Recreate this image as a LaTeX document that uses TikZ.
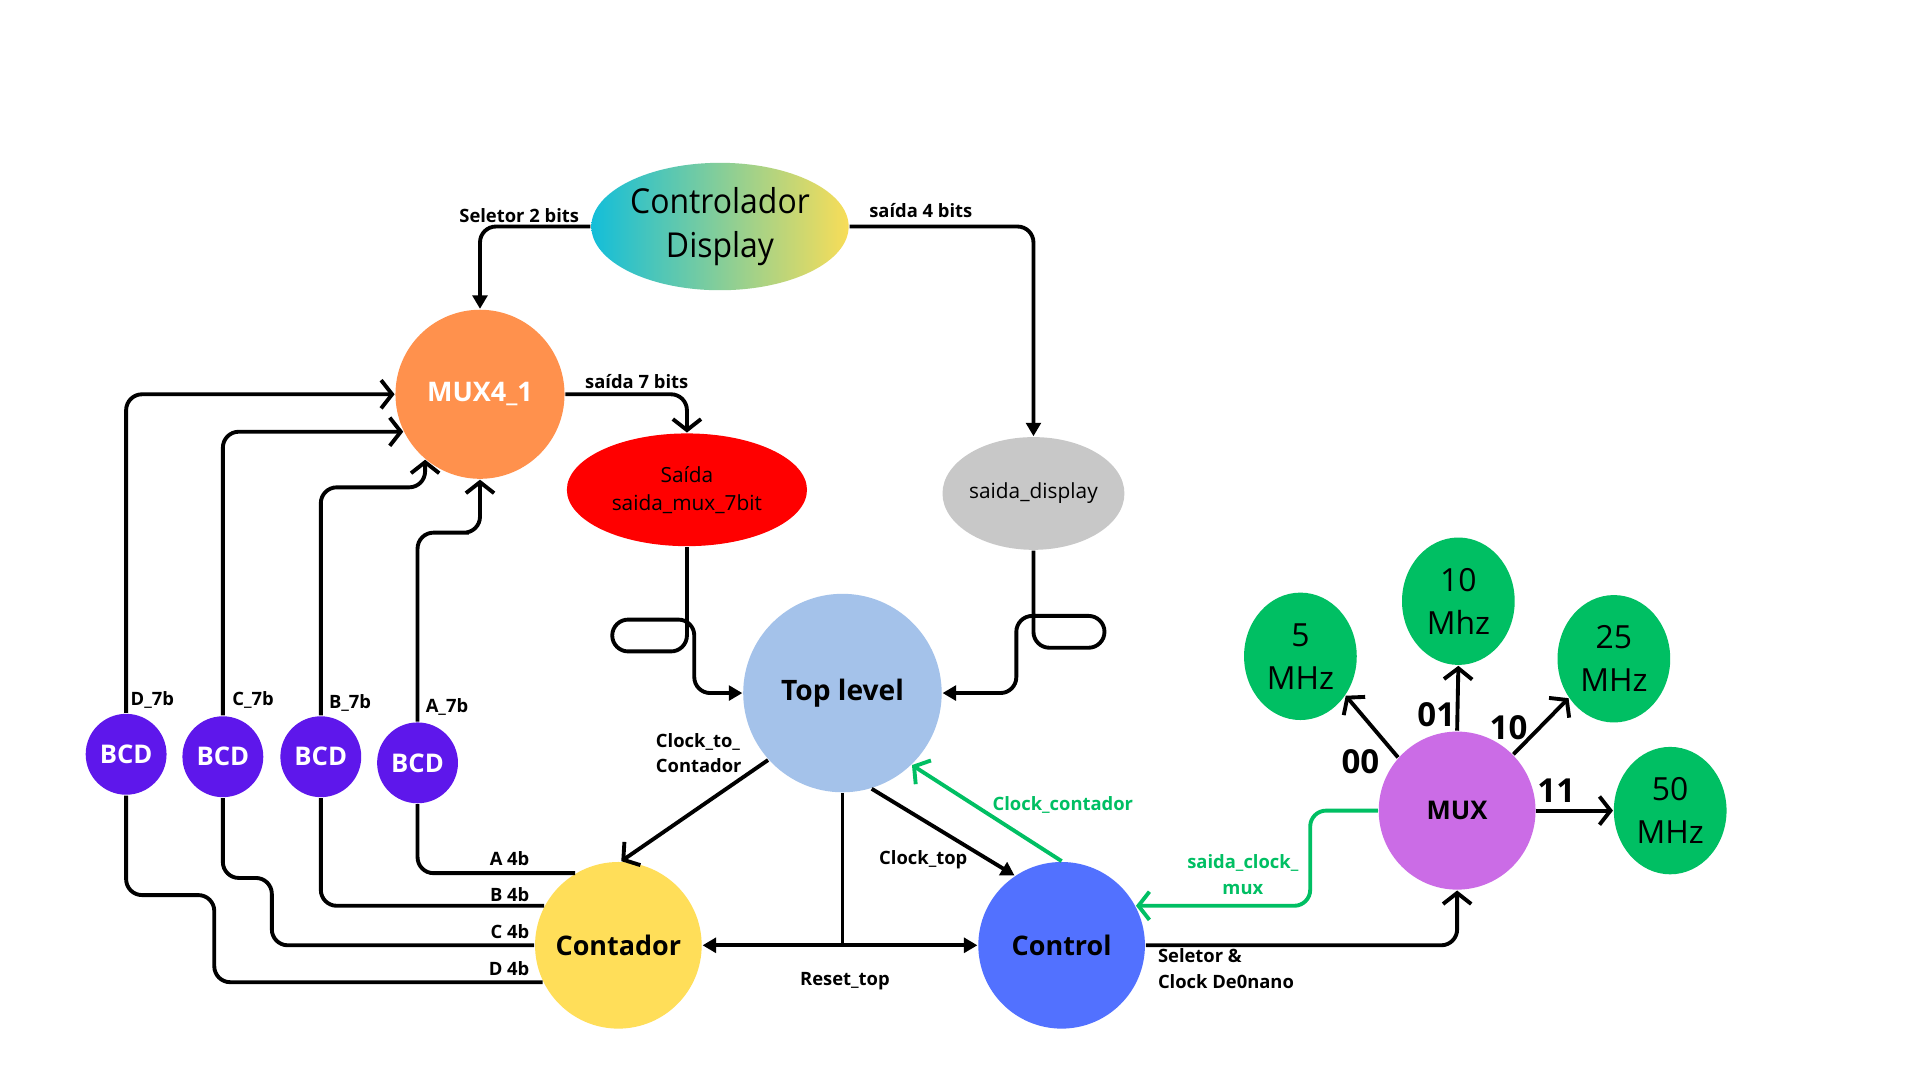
\documentclass[tikz,border=0pt]{standalone}
\usepackage{fontspec}
\setmainfont{Open Sans}
\newfontfamily\condfont[FakeStretch=0.93]{Open Sans}
\usetikzlibrary{arrows.meta,shapes.geometric,calc}
\definecolor{cyanc}{HTML}{13BED9}
\definecolor{yelc}{HTML}{F8DD58}
\definecolor{orangec}{HTML}{FF914D}
\definecolor{redc}{HTML}{FF0000}
\definecolor{grayc}{HTML}{C8C8C8}
\definecolor{lbluec}{HTML}{A4C2EA}
\definecolor{yellowc}{HTML}{FFDE59}
\definecolor{bluec}{HTML}{5271FF}
\definecolor{purplec}{HTML}{CB6CE6}
\definecolor{greenc}{HTML}{00BF63}
\definecolor{bcdc}{HTML}{5E17EB}
\tikzset{
  blob/.style={ellipse, draw=none, inner sep=0pt, align=center},
  bigtxt/.style={font=\condfont\fontsize{7.97}{10.2}\selectfont},
  nodebold/.style={font=\fontsize{6.26}{7.5}\selectfont\bfseries},
  lbl/.style={inner sep=0pt, font=\fontsize{4.27}{5.97}\selectfont\bfseries},
  freq/.style={blob, fill=greenc, minimum width=0.92cm, minimum height=1.04cm, font=\fontsize{7.40}{9.96}\selectfont},
  bcd/.style={blob, fill=bcdc, minimum width=0.66cm, minimum height=0.66cm, text=white, font=\fontsize{5.97}{7}\selectfont\bfseries},
  code/.style={inner sep=0pt, font=\fontsize{7.68}{9}\selectfont\bfseries},
  wire/.style={draw=black, line width=0.9pt, rounded corners=1.3mm},
  gwire/.style={draw=greenc, line width=0.9pt, rounded corners=1.3mm},
  fa/.style={-{Triangle[length=1.1mm,width=1.2mm]}},
  oa/.style={-{Straight Barb[length=0.9mm,width=2.3mm]}},
}
\begin{document}
\begin{tikzpicture}[x=0.01cm,y=-0.01cm]
\useasboundingbox (0,0) rectangle (1568,882);
\fill[white] (0,0) rectangle (1568,882);

% nodes
\node[blob, left color=cyanc, right color=yelc, minimum width=2.10cm, minimum height=1.04cm, bigtxt] (cd) at (588,185) {Controlador\\Display};
\node[blob, fill=orangec, minimum width=1.38cm, minimum height=1.38cm, text=white, nodebold] (mux41) at (392,322) {MUX4\_1};
\node[blob, fill=redc, minimum width=1.96cm, minimum height=0.92cm, font=\fontsize{4.84}{6.54}\selectfont] (red) at (561,400) {Saída\\saida\_mux\_7bit};
\node[blob, fill=grayc, minimum width=1.46cm, minimum height=0.92cm, font=\fontsize{4.84}{6.54}\selectfont] (sd) at (844,403) {saida\_display};
\node[blob, fill=lbluec, minimum width=1.62cm, minimum height=1.62cm, font=\fontsize{6.54}{8}\selectfont\bfseries] (tl) at (688,566) {Top level};
\node[blob, fill=yellowc, minimum width=1.36cm, minimum height=1.36cm, inner xsep=-2pt, nodebold] (ctr) at (505,772) {Contador};
\node[blob, fill=bluec, minimum width=1.36cm, minimum height=1.36cm, inner xsep=-2pt, nodebold] (ctrl) at (867,772) {Control};
\node[blob, fill=purplec, minimum width=1.28cm, minimum height=1.29cm, font=\fontsize{5.97}{7}\selectfont\bfseries] (mux) at (1190,662) {MUX};
\node[freq] (f5) at (1062,536) {5\\MHz};
\node[freq] (f10) at (1191,491) {10\\Mhz};
\node[freq] (f25) at (1318,538) {25\\MHz};
\node[freq] (f50) at (1364,662) {50\\MHz};
\node[bcd] (bcd1) at (103,616) {BCD};
\node[bcd] (bcd2) at (182,618) {BCD};
\node[bcd] (bcd3) at (262,618) {BCD};
\node[bcd] (bcd4) at (341,623) {BCD};

% helper coordinates
\coordinate (bB) at (300,398);
\coordinate (aA) at (370,435);
\coordinate (cC) at (222,717);
\coordinate (dD) at (175,731);
\coordinate (gG) at (1070,700);

% controlador display outputs
\draw[wire,fa] (cd.west) -| (mux41.north);
\draw[wire,fa] (cd.east) -| (sd.north);
\draw[wire,oa] (mux41.east) -| (red.north);

% BCD to MUX4_1
\draw[wire,oa] (bcd1.north) |- (mux41.west);
\draw[wire,oa] (bcd2.north) |- (mux41.206);
\draw[wire,oa] (bcd3.north) |- (bB) -| (mux41.230);
\draw[wire,oa] (bcd4.north) |- (aA) -| (mux41.south);

% BCD to Contador
\draw[wire] (bcd4.south) |- (ctr.121.5);
\draw[wire] (bcd3.south) |- (ctr.152);
\draw[wire] (bcd2.south) |- (cC) |- (ctr.west);
\draw[wire] (bcd1.south) |- (dD) |- (ctr.206);

% loops into top level
\draw[wire,fa] (red.south) -- (561,532) -- (500,532) -- (500,506) -- (567,506) -- (567,566) -- (tl.west);
\draw[wire,fa] (sd.south) -- (844,529) -- (902,529) -- (902,503) -- (830,503) -- (830,566) -- (tl.east);

% top level connections
\draw[wire,oa] (tl.222) -- (ctr.88);
\draw[wire,fa] (tl.287) -- (ctrl.124);
\draw[gwire,oa] (ctrl.north) -- (tl.314);
\draw[wire] (tl.south) -- (tl.south |- ctr.east);
\draw[wire,{Triangle[length=1.1mm,width=1.2mm]}-{Triangle[length=1.1mm,width=1.2mm]}] (ctr.east) -- (ctrl.west);

% control and mux
\draw[wire,oa] (ctrl.east) -| (mux.south);
\draw[gwire,oa] (mux.west) -| (gG) |- (ctrl.28);
\draw[wire,oa] (mux.138) -- (f5.-41);
\draw[wire,oa] (mux.north) -- (f10.south);
\draw[wire,oa] (mux.45) -- (f25.221);
\draw[wire,oa] (mux.east) -- (f50.west);

% labels
\node[lbl] (l1) at (424,176) {Seletor 2 bits};
\node[lbl] (l2) at (752,172) {saída 4 bits};
\node[lbl] (l3) at (520,312) {saída 7 bits};
\node[lbl, anchor=west] (l4) at (106,572) {D\_7b};
\node[lbl, anchor=west] (l5) at (189,572) {C\_7b};
\node[lbl, anchor=west] (l6) at (268,574) {B\_7b};
\node[lbl, anchor=west] (l7) at (347,577) {A\_7b};
\node[lbl, anchor=east] (l8) at (433,701) {A 4b};
\node[lbl, anchor=east] (l9) at (433,731) {B 4b};
\node[lbl, anchor=east] (l10) at (433,761) {C 4b};
\node[lbl, anchor=east] (l11) at (433,791) {D 4b};
\node[lbl, anchor=west, align=left] (l12) at (535,615) {Clock\_to\_\\Contador};
\node[lbl] (l13) at (754,702) {Clock\_top};
\node[lbl, text=greenc] (l14) at (868,657) {Clock\_contador};
\node[lbl] (l15) at (690,801) {Reset\_top};
\node[lbl, anchor=west, align=left] (l16) at (945,791) {Seletor \&\\Clock De0nano};
\node[lbl, text=greenc, align=center] (l17) at (1015,714) {saida\_clock\_\\mux};
\node[code] (c00) at (1111,622) {00};
\node[code] (c01) at (1173,584) {01};
\node[code] (c10) at (1232,594) {10};
\node[code] (c11) at (1271,646) {11};
\end{tikzpicture}
\end{document}
